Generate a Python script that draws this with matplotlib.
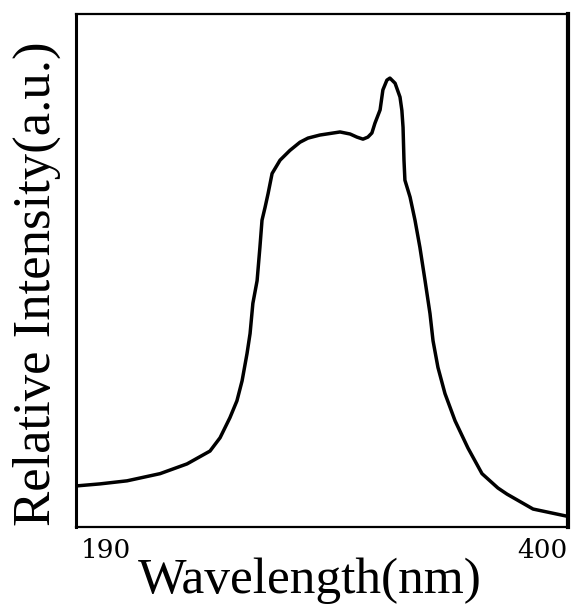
"""
Relative intensity spectrum, 190-400 nm
"""

import numpy as np
import matplotlib
matplotlib.use('Agg')
from matplotlib import pyplot as plt
from matplotlib.transforms import ScaledTranslation

# values (a.u., 0 = bottom of box, 1 = top)
wavelength = [190.0, 200.2, 211.8, 225.9, 237.4, 247.2, 251.5, 255.7, 258.7,
              260.9, 263.0, 264.3, 265.5, 267.3, 268.5, 269.4, 270.7, 272.0,
              273.7, 277.1, 281.3, 285.6, 289.0, 294.1, 302.7, 307.0, 309.9,
              312.5, 314.6, 316.3, 317.6, 319.8, 321.0, 322.7, 324.0, 326.2,
              328.3, 329.1, 329.6, 330.0, 330.4, 332.6, 334.7, 336.8, 339.0,
              341.1, 342.4, 344.5, 347.5, 351.8, 357.3, 363.3, 370.1, 374.0,
              385.1, 399.6]
intensity = [0.080, 0.084, 0.090, 0.104, 0.123, 0.148, 0.174, 0.213, 0.246,
             0.285, 0.338, 0.377, 0.436, 0.480, 0.545, 0.598, 0.623, 0.650,
             0.689, 0.715, 0.734, 0.750, 0.758, 0.764, 0.770, 0.766, 0.760,
             0.756, 0.760, 0.768, 0.787, 0.813, 0.852, 0.871, 0.875, 0.865,
             0.838, 0.812, 0.779, 0.715, 0.676, 0.643, 0.598, 0.545, 0.480,
             0.416, 0.363, 0.311, 0.260, 0.207, 0.154, 0.104, 0.076, 0.064,
             0.035, 0.021]
xtick_vals = [190, 400]
xtick_labels = ['190', '400']

serif = ['Liberation Serif', 'DejaVu Serif']

fig = plt.figure(figsize=(5.74, 6.07), dpi=100)
ax = fig.add_axes([0.1324, 0.1318, 0.8571, 0.8452])

ax.plot(wavelength, intensity, color='black', lw=2.5,
        solid_capstyle='round', solid_joinstyle='round')

ax.set_xlim(190, 400)
ax.set_ylim(0, 1)
ax.set_yticks([])
ax.set_xticks(xtick_vals)
ax.set_xticklabels(xtick_labels, family=['DejaVu Serif'], fontsize=19)
ax.tick_params(axis='x', length=0, pad=8)
lbls = ax.get_xticklabels()
lbls[0].set_ha('left')
lbls[0].set_transform(lbls[0].get_transform() + ScaledTranslation(5/100, 0, fig.dpi_scale_trans))
lbls[1].set_ha('right')

ax.spines['left'].set_linewidth(2.2)
ax.spines['right'].set_linewidth(3.0)
ax.spines['top'].set_linewidth(1.6)
ax.spines['bottom'].set_linewidth(1.6)

fig.text(0.540, 0.043, 'Wavelength(nm)', family=serif, fontsize=37,
         ha='center', va='center')
fig.text(0.0645, 0.533, 'Relative Intensity(a.u.)', family=serif, fontsize=38,
         ha='center', va='center', rotation=90)

fig.savefig('out.png', dpi=100)
